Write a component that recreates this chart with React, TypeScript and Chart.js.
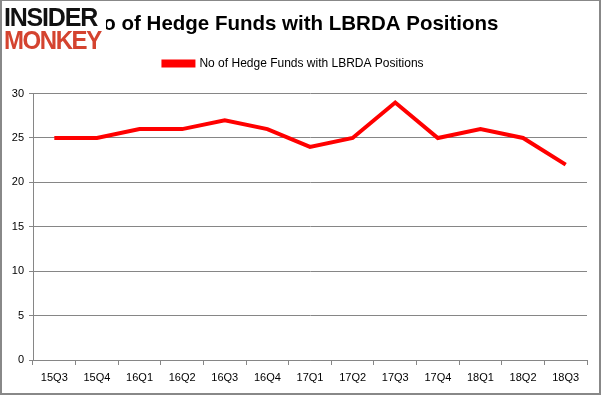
import React, { useEffect, useRef } from "react";
import { Chart, registerables } from "chart.js";

Chart.register(...registerables);

const categories = ["15Q3", "15Q4", "16Q1", "16Q2", "16Q3", "16Q4", "17Q1", "17Q2", "17Q3", "17Q4", "18Q1", "18Q2", "18Q3"];
const hedgeFunds = [25, 25, 26, 26, 27, 26, 24, 25, 29, 25, 26, 25, 22];
const yTicks = [0, 5, 10, 15, 20, 25, 30];
const seriesLabel = "No of Hedge Funds with LBRDA Positions";
const titleText = "No of Hedge Funds with LBRDA Positions";

const legendSpace = {
  id: "legendSpace",
  beforeLayout(chart: any) {
    const l = chart.legend;
    if (l && !l._patched) {
      const f = l.fit;
      l.fit = function () {
        f.call(this);
        this.height += 14;
      };
      l._patched = true;
    }
  },
};

export default function App() {
  const ref = useRef<HTMLCanvasElement | null>(null);
  useEffect(() => {
    document.body.style.margin = "0";
    const ctx = ref.current!;
    const chart = new Chart(ctx, {
      type: "line",
      data: {
        labels: categories,
        datasets: [
          {
            label: seriesLabel,
            data: hedgeFunds,
            borderColor: "#ff0000",
            backgroundColor: "#ff0000",
            borderWidth: 4,
            pointRadius: 0,
            tension: 0,
          },
        ],
      },
      plugins: [legendSpace],
      options: {
        animation: false,
        responsive: false,
        devicePixelRatio: 1,
        layout: { padding: { left: 0, right: 14, top: 0, bottom: 4 } },
        plugins: {
          title: {
            display: true,
            text: titleText,
            color: "#000",
            font: { family: "Liberation Sans", size: 20.5, weight: "bold" },
            padding: { top: 12, bottom: 11 },
          },
          legend: {
            display: true,
            labels: {
              boxWidth: 30,
              boxHeight: 4,
              color: "#000",
              font: { family: "Liberation Sans", size: 12 },
              padding: 10,
            },
          },
          tooltip: { enabled: false },
        },
        scales: {
          x: {
            offset: true,
            grid: { offset: true, drawOnChartArea: false, drawTicks: true, tickLength: 5, color: "#868686" },
            border: { color: "#868686" },
            ticks: { color: "#000", font: { family: "Liberation Sans", size: 11 }, maxRotation: 0, padding: 6 },
            afterFit: (s: any) => { s.height = 32; },
          },
          y: {
            min: 0,
            max: 30,
            afterBuildTicks: (s: any) => { s.ticks = yTicks.map((v) => ({ value: v })); },
            grid: { color: "#868686", tickLength: 4 },
            border: { color: "#868686" },
            ticks: { color: "#000", font: { family: "Liberation Sans", size: 11 }, padding: 5 },
            afterFit: (s: any) => { s.width = 33; },
          },
        },
      },
    });
    return () => chart.destroy();
  }, []);
  return (
    <div style={{ position: "fixed", left: 0, top: 0, width: 601, height: 396, background: "#fff" }}>
      <canvas ref={ref} width={601} height={396} style={{ position: "absolute", left: 0, top: 0 }} />
      <div style={{ position: "absolute", left: 0, top: 0, width: 597, height: 392, border: "2px solid #888", borderTopWidth: 1, pointerEvents: "none" }} />
      <div style={{ position: "absolute", left: 4, top: 6, background: "#fff", fontFamily: "Liberation Sans", fontWeight: 900, lineHeight: "23px", paddingRight: 1 }}>
        <div style={{ fontSize: 25, color: "#111", letterSpacing: -1.2 }}>INSIDER</div>
        <div style={{ fontSize: 25, color: "#d4432f", letterSpacing: -1.5, transform: "scaleX(0.96)", transformOrigin: "left" }}>MONKEY</div>
      </div>
    </div>
  );
}
